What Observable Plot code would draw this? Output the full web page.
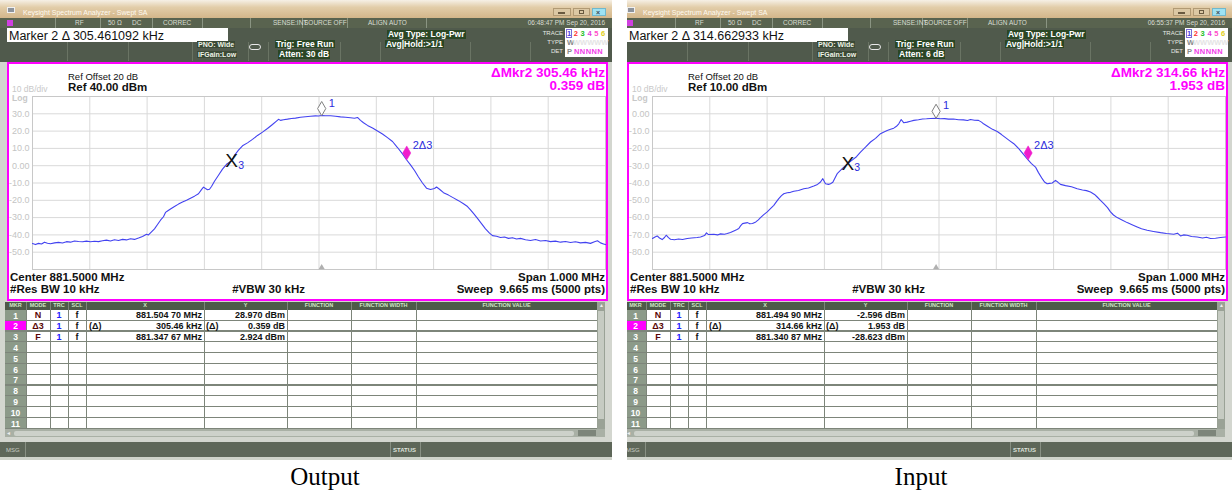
<!DOCTYPE html>
<html><head><meta charset="utf-8">
<script src="https://cdn.jsdelivr.net/npm/d3@7"></script>
<script src="https://cdn.jsdelivr.net/npm/@observablehq/plot@0.6"></script>
<style>
body{margin:0;background:#fff;font-family:"Liberation Sans",Arial,sans-serif;}
#root{position:relative;width:1232px;height:493px;overflow:hidden;background:#fff;}
.a{position:absolute;white-space:nowrap;line-height:1;box-sizing:border-box;}
</style></head>
<body><div id="root"></div>
<script>
// ---------- data ----------
const outFreq = [881.0000,881.0052,881.0105,881.0157,881.0209,881.0262,881.0314,881.0384,881.0454,881.0524,
881.0593,881.0663,881.0733,881.0803,881.0873,881.0942,881.1012,881.1082,881.1152,881.1222,
881.1291,881.1361,881.1431,881.1501,881.1571,881.1640,881.1710,881.1780,881.1850,881.1920,
881.1990,881.2024,881.2077,881.2129,881.2182,881.2234,881.2286,881.2321,881.2356,881.2408,
881.2478,881.2548,881.2618,881.2688,881.2757,881.2827,881.2897,881.2949,881.2984,881.3019,
881.3054,881.3089,881.3124,881.3176,881.3246,881.3316,881.3386,881.3477,881.3525,881.3595,
881.3665,881.3752,881.3839,881.3927,881.4014,881.4101,881.4188,881.4258,881.4293,881.4328,
881.4380,881.4450,881.4520,881.4590,881.4677,881.4764,881.4852,881.4939,881.4991,881.5047,
881.5113,881.5201,881.5288,881.5375,881.5462,881.5550,881.5620,881.5672,881.5724,881.5777,
881.5846,881.5934,881.6021,881.6108,881.6195,881.6283,881.6370,881.6457,881.6531,881.6597,
881.6667,881.6736,881.6806,881.6876,881.6946,881.7016,881.7051,881.7103,881.7173,881.7260,
881.7347,881.7435,881.7522,881.7592,881.7644,881.7696,881.7766,881.7836,881.7906,881.7976,
881.8028,881.8098,881.8168,881.8237,881.8307,881.8377,881.8447,881.8517,881.8604,881.8691,
881.8778,881.8866,881.8953,881.9040,881.9127,881.9215,881.9302,881.9389,881.9476,881.9564,
881.9651,881.9738,881.9808,881.9860,881.9913,881.9965,882.0000];
const outLevel = [-45.0,-45.6,-44.9,-45.3,-44.2,-44.8,-45.1,-44.6,-44.3,-44.7,
-43.9,-44.2,-43.5,-43.8,-44.0,-43.6,-44.0,-43.7,-43.9,-43.4,
-43.0,-43.5,-42.8,-43.2,-42.6,-42.9,-42.2,-42.6,-41.8,-40.9,
-39.6,-40.0,-38.2,-36.5,-34.0,-31.5,-29.5,-27.0,-26.2,-25.0,
-23.6,-22.2,-21.0,-20.0,-18.8,-17.6,-16.2,-13.8,-12.4,-13.2,
-13.9,-13.6,-12.0,-9.0,-5.5,-2.0,0.8,2.9,6.0,9.0,
11.5,13.2,15.2,17.5,19.4,21.5,23.8,25.8,26.8,26.2,
26.6,26.9,27.3,27.5,28.0,28.3,28.6,28.8,28.7,29.0,
28.9,28.9,28.6,28.2,28.0,27.7,27.4,27.9,26.2,24.8,
23.3,21.8,20.1,18.3,16.2,14.0,10.5,6.8,3.3,0.5,
-2.8,-6.5,-10.0,-13.0,-13.8,-13.2,-12.3,-13.6,-15.6,-17.0,
-18.6,-20.2,-22.0,-23.6,-25.5,-27.6,-30.5,-33.5,-36.5,-39.0,
-40.4,-40.8,-41.5,-41.2,-42.0,-41.6,-42.4,-42.0,-42.8,-43.2,
-42.7,-43.5,-43.2,-43.9,-43.6,-44.2,-43.8,-44.4,-44.0,-44.6,
-44.3,-44.9,-44.0,-43.4,-44.6,-45.2,-45.6];

const inFreq = [881.0000,881.0044,881.0082,881.0122,881.0169,881.0209,881.0239,881.0279,881.0314,881.0384,
881.0454,881.0524,881.0606,881.0681,881.0780,881.0838,881.0908,881.0942,881.0977,881.1070,
881.1134,881.1187,881.1257,881.1304,881.1361,881.1419,881.1466,881.1506,881.1536,881.1571,
881.1611,881.1658,881.1699,881.1745,881.1803,881.1847,881.1885,881.1937,881.2002,881.2059,
881.2117,881.2164,881.2204,881.2251,881.2291,881.2351,881.2408,881.2466,881.2548,881.2640,
881.2722,881.2815,881.2880,881.2932,881.2972,881.3019,881.3072,881.3106,881.3147,881.3223,
881.3311,881.3409,881.3490,881.3560,881.3630,881.3717,881.3805,881.3892,881.3979,881.4031,
881.4096,881.4154,881.4211,881.4258,881.4298,881.4340,881.4386,881.4445,881.4503,881.4560,
881.4642,881.4712,881.4782,881.4852,881.4949,881.5026,881.5096,881.5166,881.5253,881.5340,
881.5428,881.5497,881.5550,881.5620,881.5689,881.5742,881.5777,881.5846,881.5934,881.6016,
881.6091,881.6161,881.6230,881.6306,881.6388,881.6475,881.6555,881.6614,881.6684,881.6736,
881.6801,881.6841,881.6888,881.6929,881.6976,881.7033,881.7077,881.7120,881.7208,881.7312,
881.7412,881.7504,881.7574,881.7644,881.7714,881.7761,881.7818,881.7876,881.7941,881.7993,
881.8045,881.8110,881.8185,881.8284,881.8359,881.8459,881.8534,881.8633,881.8743,881.8866,
881.8970,881.9098,881.9162,881.9215,881.9267,881.9331,881.9407,881.9506,881.9599,881.9668,
881.9738,881.9825,881.9913,882.0000];
const inLevel = [-72.1,-71.2,-70.6,-71.8,-72.7,-71.5,-70.2,-71.6,-72.5,-72.8,
-72.4,-72.7,-72.1,-71.8,-71.5,-71.2,-70.4,-68.8,-69.8,-69.6,
-70.0,-69.4,-69.6,-69.2,-68.6,-67.7,-67.0,-66.3,-64.8,-63.5,
-63.2,-62.9,-63.6,-63.4,-62.5,-61.3,-60.0,-58.4,-56.7,-54.8,
-52.9,-50.8,-49.0,-47.3,-46.2,-45.6,-45.4,-44.8,-44.3,-43.3,
-42.9,-41.7,-40.8,-39.4,-37.5,-40.4,-40.8,-40.4,-39.6,-34.6,
-31.7,-28.6,-26.6,-24.8,-22.1,-19.3,-16.3,-14.2,-11.5,-10.6,
-9.6,-8.9,-8.3,-7.2,-5.8,-3.3,-5.2,-4.8,-4.3,-3.8,
-3.4,-3.0,-2.9,-2.7,-2.6,-2.9,-2.8,-3.1,-3.0,-3.4,
-3.5,-3.9,-3.3,-3.7,-3.8,-4.8,-5.8,-7.2,-9.0,-10.2,
-12.0,-13.8,-15.5,-17.3,-20.0,-23.5,-26.7,-28.8,-30.8,-34.0,
-37.5,-39.4,-40.4,-40.2,-40.0,-38.5,-39.6,-40.8,-41.5,-42.2,
-43.3,-44.0,-44.4,-45.2,-46.6,-48.1,-50.0,-51.9,-54.2,-56.7,
-58.5,-60.0,-61.2,-62.9,-64.0,-65.4,-66.4,-67.3,-68.0,-68.7,
-69.2,-69.6,-69.0,-70.6,-70.0,-70.2,-70.9,-71.2,-71.8,-71.4,
-72.1,-71.9,-71.5,-71.2];

// markers: [1 (normal), 2 (delta to 3), 3 (fixed)]
const outMarkerFreq = [881.50470, 881.65313, 881.34767];
const outMarkerLevel = [28.970, 3.283, 2.924];
const inMarkerFreq = [881.49490, 881.65553, 881.34087];
const inMarkerLevel = [-2.596, -26.670, -28.623];

const xGridMHz = [881.0,881.1,881.2,881.3,881.4,881.5,881.6,881.7,881.8,881.9,882.0];
const outYTicks = [30,20,10,0,-10,-20,-30,-40,-50];
const inYTicks = [0,-10,-20,-30,-40,-50,-60,-70,-80];

const outTableX = ["881.504 70 MHz","305.46 kHz","881.347 67 MHz"];
const outTableY = ["28.970 dBm","0.359 dB","2.924 dBm"];
const inTableX = ["881.494 90 MHz","314.66 kHz","881.340 87 MHz"];
const inTableY = ["-2.596 dBm","1.953 dB","-28.623 dBm"];
const tableMode = ["N","\u03943","F"];
const tableHeaders = ["MKR","MODE","TRC","SCL","X","Y","FUNCTION","FUNCTION WIDTH","FUNCTION VALUE"];

// ---------- helpers ----------
function box(parent, css, text) {
  const d = document.createElement("div");
  d.className = "a";
  for (const k in css) {
    const v = css[k];
    d.style[k] = (typeof v === "number" && !["fontWeight","opacity","zIndex"].includes(k)) ? v + "px" : v;
  }
  if (text != null) d.textContent = text;
  parent.appendChild(d);
  return d;
}
function rtext(parent, text, endX, top, css) {
  return box(parent, Object.assign({left: endX - 300, width: 300, top, textAlign: "right"}, css), text);
}
function ctext(parent, text, x0, x1, top, css) {
  return box(parent, Object.assign({left: x0, width: x1 - x0, top, textAlign: "center"}, css), text);
}
const fmtTick = d => d === 0 ? "0.00" : d.toFixed(1);

function graticule(freq, level, mf, ml, ref, yTicks) {
  const trace = freq.map((f, i) => ({f, v: level[i]}));
  const mk = mf.map((f, i) => ({f, v: ml[i]}));
  const yGrid = d3.range(0, 11).map(i => ref - 10 * i);
  const blue = "#2c2cdc";
  return Plot.plot({
    width: 612, height: 238,
    marginLeft: 32, marginRight: 7, marginTop: 34, marginBottom: 31,
    style: {background: "transparent", overflow: "visible", fontFamily: "Liberation Sans, Arial, sans-serif"},
    x: {domain: [881, 882], axis: null},
    y: {domain: [ref - 100, ref], axis: null},
    marks: [
      Plot.ruleX(xGridMHz, {stroke: "#d9d9d9", strokeWidth: 1}),
      Plot.ruleY(yGrid, {stroke: "#d9d9d9", strokeWidth: 1}),
      Plot.frame({stroke: "#c8c8c8"}),
      Plot.text(yTicks, {x: 881, y: d => d, text: fmtTick, textAnchor: "end", dx: -3, fill: "#c4c4c4", fontSize: 9}),
      Plot.line(trace, {x: "f", y: "v", stroke: "#4242f0", strokeWidth: 1.1}),
      // marker 1 position indicator at bottom
      Plot.dot([mk[0]], {x: "f", y: () => ref - 100, symbol: "triangle", r: 2.3, fill: "#b0b0b0", dy: -2}),
      // marker 1 (open diamond)
      Plot.dot([mk[0]], {x: "f", y: "v", symbol: "diamond", r: 4.3, fill: "white", stroke: "#808080", strokeWidth: 1, dy: -7}),
      Plot.text([mk[0]], {x: "f", y: "v", text: () => "1", dx: 7, dy: -12.5, textAnchor: "start", fill: blue, fontSize: 11}),
      // marker 2 (delta, filled magenta)
      Plot.dot([mk[1]], {x: "f", y: "v", symbol: "diamond", r: 4.3, fill: "#f01ccc", stroke: "#f01ccc", strokeWidth: 0.5, dy: -7}),
      Plot.text([mk[1]], {x: "f", y: "v", text: () => "2\u03943", dx: 6, dy: -14.5, textAnchor: "start", fill: blue, fontSize: 11}),
      // marker 3 (fixed, X)
      Plot.text([mk[2]], {x: "f", y: "v", text: () => "X", fill: "#111", fontSize: 19, dy: 0.5}),
      Plot.text([mk[2]], {x: "f", y: "v", text: () => "3", dx: 6.5, dy: 4.5, textAnchor: "start", fill: blue, fontSize: 10.5})
    ]
  });
}

function makePanel(host, c) {
  const p = box(host, {left: 0, top: 0, width: 612, height: 460, background: "#d3d6cf", overflow: "hidden"});
  // title bar
  box(p, {left: 0, top: 0, width: 612, height: 18, background: "linear-gradient(#f6f0e6 0%, #e2cda9 40%, #d3b68a 100%)"});
  box(p, {left: 7, top: 7, width: 8, height: 6, background: "#8d939b", border: "1px solid #f0f0f0"});
  box(p, {left: 23, top: 9, fontSize: 7, color: "#fffaf0"}, "Keysight Spectrum Analyzer - Swept SA");
  box(p, {left: 553, top: 8, width: 18, height: 8, background: "#dcc8a4", border: "1px solid #b19a74"});
  box(p, {left: 558, top: 12, width: 7, height: 1.5, background: "#6a5a40"});
  box(p, {left: 573, top: 8, width: 17, height: 8, background: "#dcc8a4", border: "1px solid #b19a74"});
  box(p, {left: 579, top: 10, width: 5, height: 4, border: "1px solid #6a5a40"});
  box(p, {left: 592, top: 8, width: 14, height: 8, background: "#9ee2f2", border: "1px solid #70b8cc"});
  box(p, {left: 596, top: 8.5, fontSize: 7, color: "#3a4a55", fontWeight: 700}, "\u00d7");
  // status row
  box(p, {left: 0, top: 18, width: 612, height: 10, background: "#59634f"});
  box(p, {left: 7, top: 19.5, width: 6, height: 6, background: "#d040e0"});
  [55, 100, 152, 202, 250, 302, 347, 426].forEach(x => box(p, {left: x, top: 18, width: 1, height: 10, background: "#8a9482"}));
  const st = {top: 20, fontSize: 6.5, color: "#d8ddd2"};
  [["RF", 75], ["50 \u03a9", 108], ["DC", 132], ["CORREC", 163], ["SENSE:INT", 273], ["SOURCE OFF", 304], ["ALIGN AUTO", 368]].forEach(([t, x]) => box(p, Object.assign({left: x}, st), t));
  rtext(p, c.time, 605, 20, {fontSize: 6.5, color: "#d8ddd2"});
  // control area
  box(p, {left: 0, top: 28, width: 612, height: 34, background: "#505a4c"});
  [67, 128, 192, 248, 268, 340, 380, 470, 530].forEach(x => box(p, {left: x, top: 42, width: 1, height: 19, background: "#6a7464"}));
  box(p, {left: 7, top: 28, width: 221, height: 14, background: "#fff"});
  box(p, {left: 9, top: 29.5, fontSize: 12.5, color: "#111"}, c.markerText);
  box(p, {left: 197, top: 41, fontSize: 7, fontWeight: 700, color: "#eef3e6", background: "#3b4a36", padding: "0 1px"}, "PNO: Wide");
  box(p, {left: 197, top: 50.5, fontSize: 7, fontWeight: 700, color: "#eef3e6", background: "#3b4a36", padding: "0 1px"}, "IFGain:Low");
  box(p, {left: 249, top: 44, width: 12, height: 6, border: "1px solid #e8e8e8", borderRadius: "3px"});
  box(p, {left: 275, top: 39.5, fontSize: 8.5, fontWeight: 700, color: "#fff", background: "#2a4624", padding: "0 1px"}, "Trig: Free Run");
  box(p, {left: 278, top: 50, fontSize: 8.5, fontWeight: 700, color: "#fff", background: "#2a4624", padding: "0 1px"}, c.atten);
  box(p, {left: 387, top: 30, fontSize: 8.5, fontWeight: 700, color: "#fff", background: "#2a4624", padding: "0 1px"}, "Avg Type: Log-Pwr");
  box(p, {left: 385, top: 39.5, fontSize: 8.5, fontWeight: 700, color: "#fff", background: "#2a4624", padding: "0 1px"}, "Avg|Hold:>1/1");
  rtext(p, "TRACE", 563, 30, {fontSize: 6, color: "#e6e9e2"});
  rtext(p, "TYPE", 563, 39, {fontSize: 6, color: "#e6e9e2"});
  rtext(p, "DET", 563, 48, {fontSize: 6, color: "#e6e9e2"});
  box(p, {left: 565, top: 28, width: 43, height: 29, background: "#fff"});
  const trCol = ["#4a3ae0", "#ff3030", "#22c022", "#e040e0", "#ff50c8", "#e0d020"];
  trCol.forEach((col, i) => box(p, {left: 567 + i * 6.8, top: 30, fontSize: 7.5, color: col, fontWeight: 700}, String(i + 1)));
  box(p, {left: 566, top: 29, width: 6, height: 9, border: "1px solid #7a6ad8"});
  box(p, {left: 567, top: 39, fontSize: 7.5, color: "#888", fontWeight: 700}, "W");
  box(p, {left: 573, top: 39, fontSize: 7.5, color: "#e4e4e4", fontWeight: 700}, "WWWWW");
  box(p, {left: 567, top: 48, fontSize: 7.5, color: "#888", fontWeight: 700}, "P");
  box(p, {left: 574, top: 48, fontSize: 7.5, color: "#f040e8", fontWeight: 700, letterSpacing: "0.4px"}, "NNNNN");
  // graticule panel
  box(p, {left: 7, top: 62, width: 601, height: 239, background: "#fff", border: "2px solid #ff00ff"});
  const svg = graticule(c.freq, c.level, c.mf, c.ml, c.ref, c.yTicks);
  svg.style.position = "absolute"; svg.style.left = "0px"; svg.style.top = "62px";
  p.appendChild(svg);
  box(p, {left: 68, top: 71.5, fontSize: 9.5, color: "#111"}, "Ref Offset 20 dB");
  box(p, {left: 68, top: 81.5, fontSize: 11.5, fontWeight: 700, color: "#111"}, c.refLabel);
  box(p, {left: 12, top: 85, fontSize: 8.5, color: "#c8c8c8"}, "10 dB/div");
  box(p, {left: 12, top: 93.5, fontSize: 8.5, fontWeight: 700, color: "#c8c8c8"}, "Log");
  rtext(p, c.mkrDelta, 605, 65.5, {fontSize: 13.5, fontWeight: 700, color: "#ff00ff"});
  rtext(p, c.mkrDeltaDb, 605, 78.5, {fontSize: 13.5, fontWeight: 700, color: "#ff00ff"});
  box(p, {left: 10, top: 271.5, fontSize: 11.5, fontWeight: 700, color: "#111"}, "Center 881.5000 MHz");
  box(p, {left: 10, top: 284, fontSize: 11.5, fontWeight: 700, color: "#111"}, "#Res BW 10 kHz");
  rtext(p, "#VBW 30 kHz", 305, 284, {fontSize: 11.5, fontWeight: 700, color: "#111"});
  rtext(p, "Span 1.000 MHz", 605, 271.5, {fontSize: 11.5, fontWeight: 700, color: "#111"});
  rtext(p, "Sweep  9.665 ms (5000 pts)", 605, 284, {fontSize: 11.5, fontWeight: 700, color: "#111", whiteSpace: "pre"});
  // table
  const cols = [5, 26, 50, 68, 86, 204, 287, 351, 416, 597];
  box(p, {left: 5, top: 302, width: 600, height: 8, background: "#4d5a49"});
  tableHeaders.forEach((h, i) => ctext(p, h, cols[i], cols[i + 1], 303, {fontSize: 5.5, fontWeight: 700, color: "#cfe6c4"}));
  box(p, {left: 597, top: 302, width: 8, height: 127, background: "#9aa296"});
  box(p, {left: 598, top: 311, width: 6, height: 108, background: "#c6cbc2"});
  box(p, {left: 599, top: 303, fontSize: 5, color: "#eee"}, "\u25b2");
  const rowH = 10.8, row0 = 310;
  box(p, {left: 26, top: row0, width: 571, height: rowH * 11, background: "#fff"});
  for (let i = 0; i < 11; i++) {
    const top = row0 + i * rowH;
    box(p, {left: 5, top, width: 21, height: rowH, background: i === 1 ? "#ff00ff" : "#8c9a89"});
    ctext(p, String(i + 1), 5, 26, top + 1.5, {fontSize: 8.5, fontWeight: 700, color: "#fff"});
    box(p, {left: 5, top: top + rowH - 1.2, width: 592, height: 1.2, background: "#7d857a"});
  }
  cols.slice(1, 9).forEach(x => box(p, {left: x, top: 302, width: 1, height: 127, background: "#7d857a"}));
  const tf = {fontSize: 9, fontWeight: 700};
  for (let i = 0; i < 3; i++) {
    const top = row0 + i * rowH + 1;
    ctext(p, tableMode[i], 26, 50, top, Object.assign({color: "#5a0808"}, tf));
    ctext(p, "1", 50, 68, top, Object.assign({color: "#2020ff"}, tf));
    ctext(p, "f", 68, 86, top, Object.assign({color: "#111"}, tf));
    rtext(p, c.tableX[i], 202, top, Object.assign({color: "#111"}, tf));
    rtext(p, c.tableY[i], 285, top, Object.assign({color: "#111"}, tf));
    if (i === 1) {
      box(p, Object.assign({left: 89, top, color: "#111"}, tf), "(\u0394)");
      box(p, Object.assign({left: 206, top, color: "#111"}, tf), "(\u0394)");
    }
  }
  // horizontal scrollbar
  box(p, {left: 5, top: 429, width: 600, height: 8, background: "#a9b0a5"});
  box(p, {left: 14, top: 430.5, width: 560, height: 5, background: "#cdd1ca", borderRadius: "2px"});
  box(p, {left: 7, top: 429.5, fontSize: 6, color: "#eee"}, "\u25c2");
  box(p, {left: 578, top: 430, width: 18, height: 6, background: "#7d857a"});
  // message bar
  box(p, {left: 0, top: 442, width: 612, height: 15, background: "#5e6759"});
  box(p, {left: 6, top: 446.5, fontSize: 6, color: "#c8cdc3"}, "MSG");
  box(p, {left: 25, top: 442, width: 1, height: 15, background: "#889083"});
  box(p, {left: 390, top: 442, width: 1, height: 15, background: "#889083"});
  box(p, {left: 420, top: 442, width: 1, height: 15, background: "#889083"});
  box(p, {left: 393, top: 446.5, fontSize: 6, color: "#dfe3dc", fontWeight: 700}, "STATUS");
  box(p, {left: 0, top: 457, width: 612, height: 3, background: "#cfd3ca"});
  return p;
}

const root = document.getElementById("root");
const leftHost = box(root, {left: 0, top: 0, width: 612, height: 460, overflow: "hidden"});
makePanel(leftHost, {
  time: "06:48:47 PM Sep 20, 2016", markerText: "Marker 2 \u0394 305.461092 kHz", atten: "Atten: 30 dB",
  ref: 40, refLabel: "Ref 40.00 dBm", mkrDelta: "\u0394Mkr2 305.46 kHz", mkrDeltaDb: "0.359 dB",
  freq: outFreq, level: outLevel, mf: outMarkerFreq, ml: outMarkerLevel, yTicks: outYTicks,
  tableX: outTableX, tableY: outTableY
});
const rightClip = box(root, {left: 627, top: 0, width: 605, height: 460, overflow: "hidden"});
const rightHost = box(rightClip, {left: -7, top: 0, width: 612, height: 460});
makePanel(rightHost, {
  time: "06:55:37 PM Sep 20, 2016", markerText: "Marker 2 \u0394 314.662933 kHz", atten: "Atten: 6 dB",
  ref: 10, refLabel: "Ref 10.00 dBm", mkrDelta: "\u0394Mkr2 314.66 kHz", mkrDeltaDb: "1.953 dB",
  freq: inFreq, level: inLevel, mf: inMarkerFreq, ml: inMarkerLevel, yTicks: inYTicks,
  tableX: inTableX, tableY: inTableY
});
box(root, {left: 225, width: 200, top: 464, textAlign: "center", fontFamily: "'Liberation Serif','Times New Roman',serif", fontSize: 25, color: "#000"}, "Output");
box(root, {left: 821, width: 200, top: 464, textAlign: "center", fontFamily: "'Liberation Serif','Times New Roman',serif", fontSize: 25, color: "#000"}, "Input");
</script></body></html>
